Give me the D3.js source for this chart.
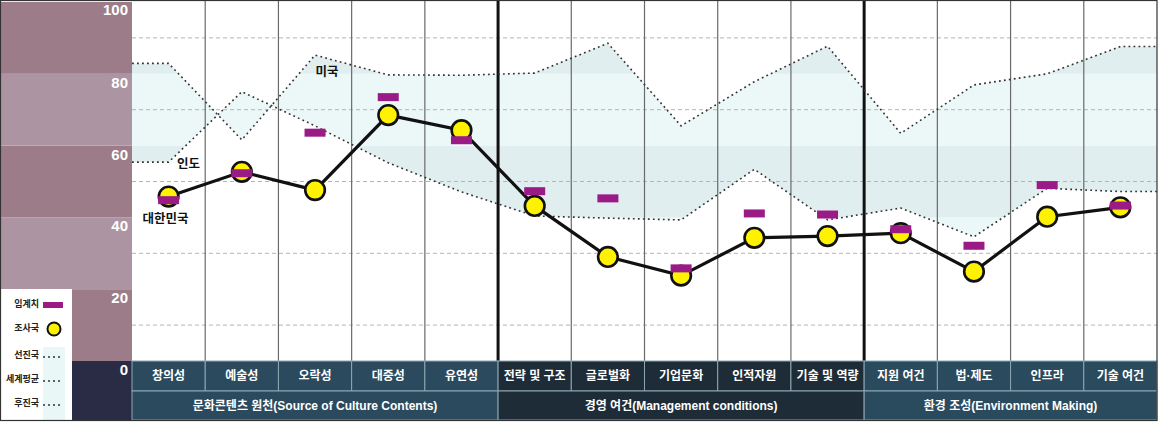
<!DOCTYPE html>
<html><head><meta charset="utf-8">
<script src="https://cdn.jsdelivr.net/npm/d3@7"></script>
<style>
html,body{margin:0;padding:0;background:#fff;}
svg{display:block;}
text{font-family:"Liberation Sans","Noto Sans CJK KR",sans-serif;font-weight:bold;}
</style></head>
<body><svg id="chart" width="1159" height="422"></svg>
<script>
const categories = ["창의성","예술성","오락성","대중성","유연성","전략 및 구조","글로벌화","기업문화","인적자원","기술 및 역량","지원 여건","법·제도","인프라","기술 여건"];
const groups = ["문화콘텐츠 원천(Source of Culture Contents)","경영 여건(Management conditions)","환경 조성(Environment Making)"];
const groupOfCategory = [0,0,0,0,0,1,1,1,1,1,2,2,2,2];
const korea = [45.8,52.7,47.6,68.5,64.3,43.2,29.0,23.8,34.3,34.8,35.6,24.9,40.2,42.8];
const threshold = [44.8,52.3,63.6,73.5,61.5,47.3,45.3,25.8,41.1,40.8,36.7,32.1,49.0,43.3];
const advanced = [82.9,61.6,85.2,79.7,79.6,80.2,88.5,65.5,77.8,87.7,63.4,76.9,80.0,87.6];
const developing = [55.4,75.0,65.5,55.2,47.1,40.4,39.8,39.3,53.4,39.3,42.6,34.6,48.1,47.2];
const yTicks = [0,20,40,60,80,100];
const gridValues = [10,30,50,70,90];
const legendItems = ["임계치","조사국","선진국","세계평균","후진국"];
const annotations = [{text:"미국",cat:2,value:80.3,dx:12},{text:"인도",cat:0,value:54.6,dx:20},{text:"대한민국",cat:0,value:39.3,dx:-3}];

const svg = d3.select("#chart");
const L = 132, R = 1157, T = 2, B = 361;
const catB = 391, grpB = 420;
const x = d3.scaleBand().domain(categories).range([L, R]).padding(0);
const y = d3.scaleLinear().domain([0, 100]).range([B, T]);
const cx = (i) => x(categories[i]) + x.bandwidth() / 2;

// left mauve bands
const bandsIdx = d3.range(5);
svg.append("g").selectAll("rect").data(bandsIdx).join("rect")
  .attr("x", 0).attr("width", L)
  .attr("y", d => y((d + 1) * 20)).attr("height", d => y(d * 20) - y((d + 1) * 20))
  .attr("fill", d => d % 2 === 0 ? "#9d7c8a" : "#ad94a2");
svg.append("rect").attr("x", 0).attr("y", B).attr("width", L).attr("height", grpB - B).attr("fill", "#2a2c45");

// teal fill between advanced and developing lines
function pts(vals) {
  const p = vals.map((v, i) => ({x: cx(i), v}));
  return [{x: L, v: vals[0]}, ...p, {x: R, v: vals[vals.length - 1]}];
}
const advPts = pts(advanced), devPts = pts(developing);
const areaData = advPts.map((d, i) => ({x: d.x, a: d.v, b: devPts[i].v}));
const area = d3.area().x(d => d.x).y0(d => y(d.a)).y1(d => y(d.b));
svg.append("clipPath").attr("id", "fillclip").append("path").attr("d", area(areaData));
svg.append("g").attr("clip-path", "url(#fillclip)").selectAll("rect").data(bandsIdx).join("rect")
  .attr("x", L).attr("width", R - L)
  .attr("y", d => y((d + 1) * 20)).attr("height", d => y(d * 20) - y((d + 1) * 20))
  .attr("fill", d => d % 2 === 0 ? "#e1eeef" : "#ecf8f8");

// gridlines
svg.append("g").selectAll("line").data(gridValues).join("line")
  .attr("x1", L).attr("x2", R).attr("y1", d => y(d)).attr("y2", d => y(d))
  .attr("stroke", "#b4b4b4").attr("stroke-width", 1).attr("stroke-dasharray", "4,3");

// vertical column lines
const boundaries = d3.range(1, categories.length);
svg.append("g").selectAll("line").data(boundaries).join("line")
  .attr("x1", d => x(categories[d])).attr("x2", d => x(categories[d]))
  .attr("y1", 0).attr("y2", B)
  .attr("stroke", d => groupOfCategory[d] !== groupOfCategory[d - 1] ? "#111" : "#6a6a6a")
  .attr("stroke-width", d => groupOfCategory[d] !== groupOfCategory[d - 1] ? 3 : 1.2);

// dotted reference lines
const refLine = d3.line().x(d => d.x).y(d => y(d.v));
[advPts, devPts].forEach(p => {
  svg.append("path").attr("d", refLine(p)).attr("fill", "none")
    .attr("stroke", "#333").attr("stroke-width", 1.6).attr("stroke-dasharray", "1.8,3.2");
});

// korea line
const kLine = d3.line().x((d, i) => cx(i)).y(d => y(d));
svg.append("path").attr("d", kLine(korea)).attr("fill", "none").attr("stroke", "#111").attr("stroke-width", 3.2);
svg.append("g").selectAll("circle").data(korea).join("circle")
  .attr("cx", (d, i) => cx(i)).attr("cy", d => y(d)).attr("r", 9.8)
  .attr("fill", "#fff200").attr("stroke", "#111").attr("stroke-width", 2.6);
svg.append("g").selectAll("rect").data(threshold).join("rect")
  .attr("x", (d, i) => cx(i) - 10.5).attr("y", d => y(d) - 4).attr("width", 21).attr("height", 8)
  .attr("fill", "#9a1a86");

// annotations
svg.append("g").selectAll("text").data(annotations).join("text")
  .attr("x", d => cx(d.cat) + d.dx).attr("y", d => y(d.value))
  .attr("text-anchor", "middle").attr("dominant-baseline", "middle")
  .attr("font-size", 12.5).attr("fill", "#111").text(d => d.text);

// y tick labels
svg.append("g").selectAll("text").data(yTicks).join("text")
  .attr("x", 128).attr("y", d => Math.max(y(d), T) + (d === 100 ? 9 : 10))
  .attr("text-anchor", "end").attr("dominant-baseline", "middle")
  .attr("font-size", 15).attr("fill", "#fff").text(d => d);

// category row
const groupColors = ["#2b4a5e", "#1e2c37", "#2a4a5e"];
const cats = svg.append("g");
cats.selectAll("rect").data(categories).join("rect")
  .attr("x", d => x(d)).attr("y", B).attr("width", x.bandwidth()).attr("height", catB - B)
  .attr("fill", (d, i) => groupColors[groupOfCategory[i]])
  .attr("stroke", "#8da6b3").attr("stroke-width", 1);
cats.selectAll("text").data(categories).join("text")
  .attr("x", (d, i) => cx(i)).attr("y", (B + catB) / 2 + 1)
  .attr("text-anchor", "middle").attr("dominant-baseline", "middle")
  .attr("font-size", 12).attr("fill", "#fff").text(d => d);

// group row
const grpExtent = groups.map((g, gi) => {
  const idx = groupOfCategory.map((v, i) => v === gi ? i : -1).filter(i => i >= 0);
  return {g, gi, x0: x(categories[idx[0]]), x1: x(categories[idx[idx.length - 1]]) + x.bandwidth()};
});
const grp = svg.append("g");
grp.selectAll("rect").data(grpExtent).join("rect")
  .attr("x", d => d.x0).attr("y", catB).attr("width", d => d.x1 - d.x0).attr("height", grpB - catB)
  .attr("fill", d => groupColors[d.gi]).attr("stroke", "#8da6b3").attr("stroke-width", 1);
grp.selectAll("text").data(grpExtent).join("text")
  .attr("x", d => (d.x0 + d.x1) / 2).attr("y", (catB + grpB) / 2 + 1)
  .attr("text-anchor", "middle").attr("dominant-baseline", "middle")
  .attr("font-size", 12).attr("fill", "#fff").text(d => d.g);

// legend
const lg = svg.append("g");
lg.append("rect").attr("x", 0).attr("y", 289).attr("width", 72).attr("height", grpB - 289).attr("fill", "#fff");
lg.append("rect").attr("x", 43).attr("y", 347).attr("width", 22).attr("height", grpB - 347).attr("fill", "#e9f7f7");
const ly = [305, 329, 356, 380, 404];
lg.selectAll("text").data(legendItems).join("text")
  .attr("x", 39).attr("y", (d, i) => ly[i]).attr("text-anchor", "end").attr("dominant-baseline", "middle")
  .attr("font-size", 9).attr("fill", "#222").text(d => d);
lg.append("rect").attr("x", 43).attr("y", ly[0] - 3).attr("width", 20).attr("height", 6).attr("fill", "#9a1a86");
lg.append("circle").attr("cx", 54).attr("cy", ly[1]).attr("r", 6.5).attr("fill", "#fff200").attr("stroke", "#111").attr("stroke-width", 2);
[2, 3, 4].forEach(i => {
  lg.append("line").attr("x1", 43).attr("x2", 63).attr("y1", ly[i] + 1).attr("y2", ly[i] + 1)
    .attr("stroke", "#333").attr("stroke-width", 1.4).attr("stroke-dasharray", "2,3");
});

// outer frame
svg.append("rect").attr("x", 0.5).attr("y", 0.5).attr("width", R - 0.5).attr("height", grpB)
  .attr("fill", "none").attr("stroke", "#333").attr("stroke-width", 1.2);
</script></body></html>
